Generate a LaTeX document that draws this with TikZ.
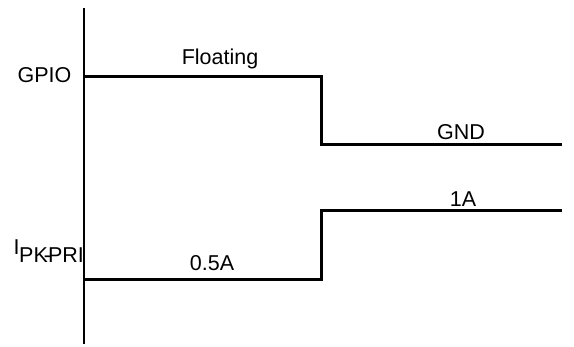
\documentclass[tikz,border=0pt]{standalone}
\usepackage{fontspec}
\setmainfont{Liberation Sans}
\begin{document}
\begin{tikzpicture}[x=1pt,y=-1pt,
  wave/.style={line width=2.2pt,line join=miter},
  lbl/.style={inner sep=0pt,anchor=base,font=\fontsize{21.5}{24}\selectfont}]
\useasboundingbox (0,0) rectangle (574,347);
% axis
\coordinate (atop) at (84,8);
\coordinate (abot) at (84,344);
\draw[wave] (atop) -- (abot);
% GPIO waveform
\coordinate (g0) at (84,76.5);
\coordinate (g1) at (321.5,76.5);
\coordinate (g2) at (321.5,144.5);
\coordinate (g3) at (562,144.5);
\draw[wave] (g0) -- (g1) -- (g2) -- (g3);
% current waveform
\coordinate (c0) at (84,279.5);
\coordinate (c1) at (321.5,279.5);
\coordinate (c2) at (321.5,210.5);
\coordinate (c3) at (562,210.5);
\draw[wave] (c0) -- (c1) -- (c2) -- (c3);
% labels
\node[lbl] (gpio) at (44.5,82.5) {GPIO};
\node[lbl] (flt) at (220,65) {Floating};
\node[lbl] (gnd) at (461,140) {GND};
\node[lbl] (oneA) at (463,207) {1A};
\node[lbl] (halfA) at (212,271) {0.5A};
\node[lbl,anchor=base west] (ipk) at (13.5,255)
  {I\kern-0.5pt\raisebox{-8pt}{PK\kern-4pt-\kern-3pt PRI}};
\end{tikzpicture}
\end{document}
